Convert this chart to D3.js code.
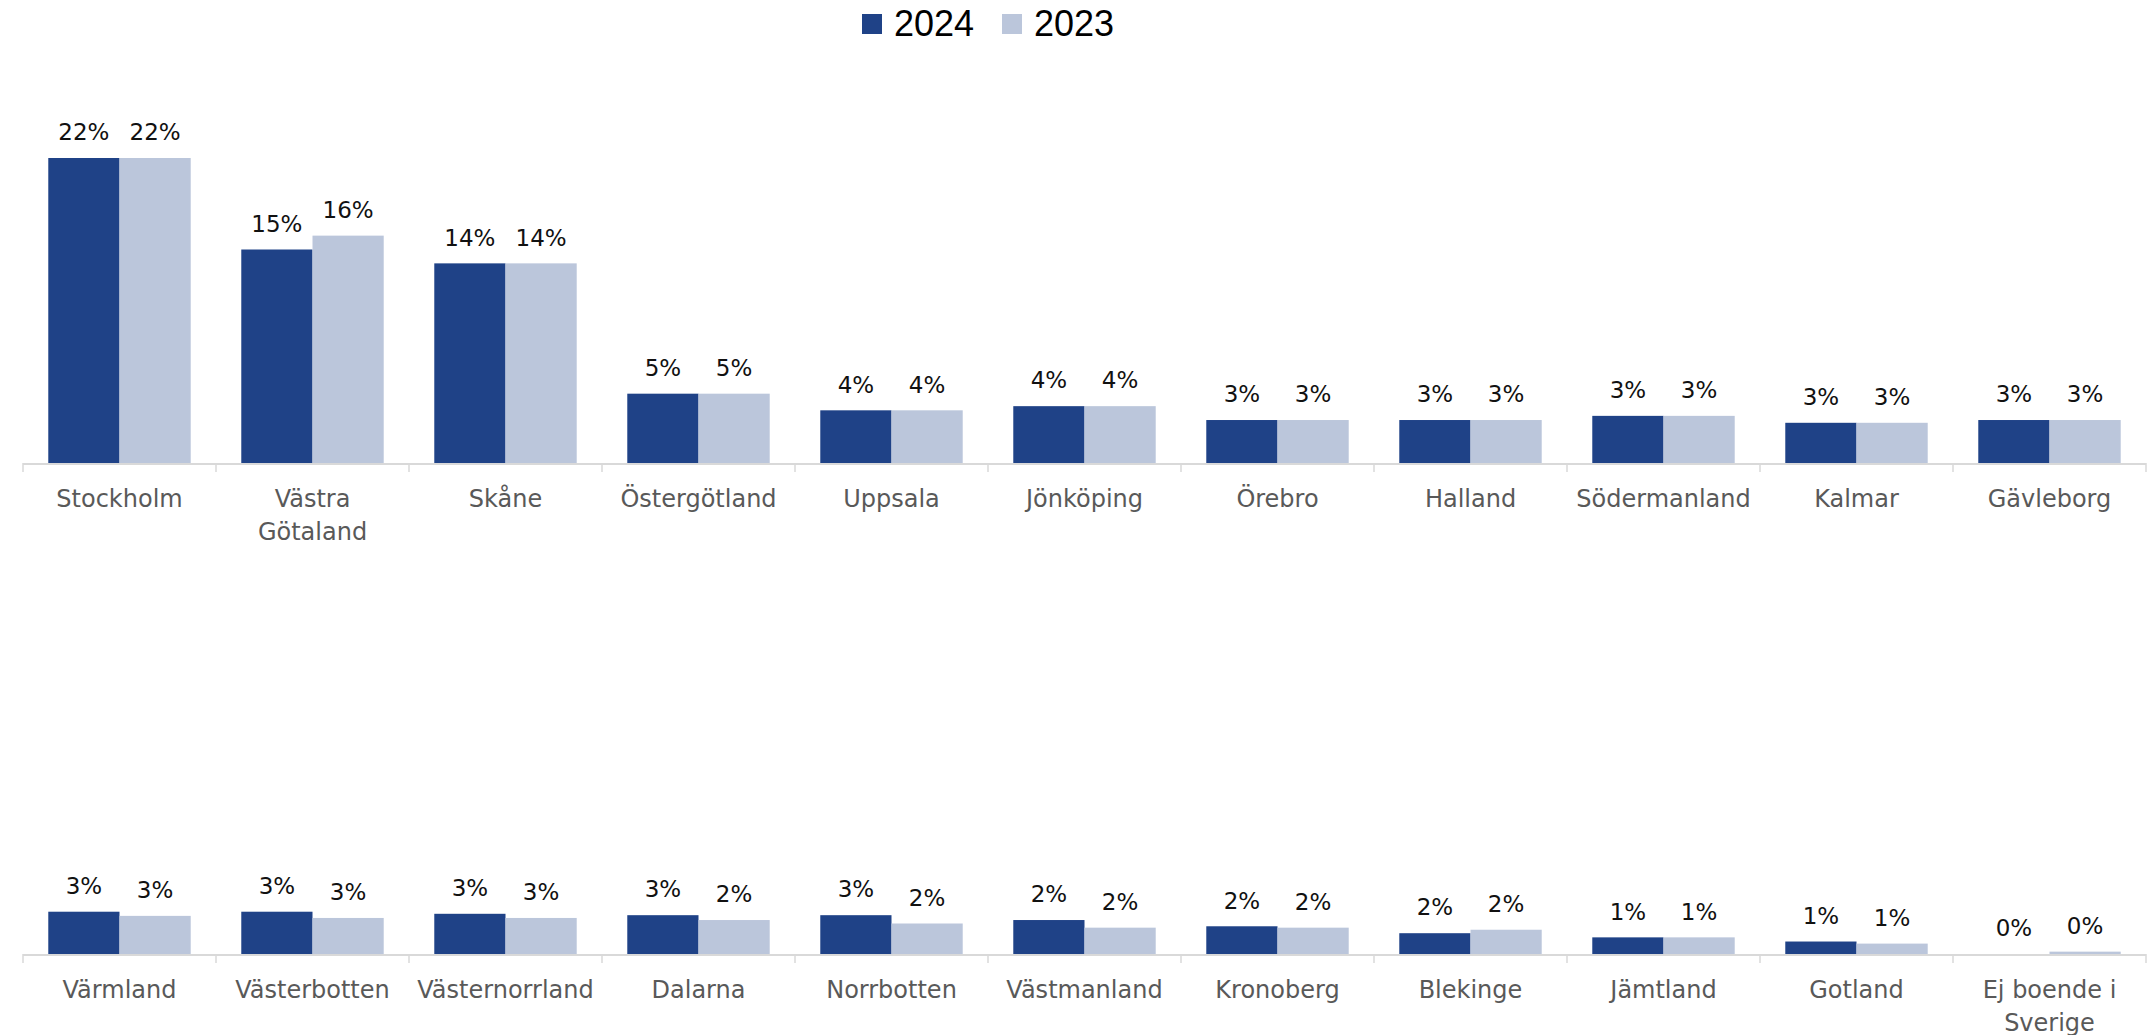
<!DOCTYPE html>
<html>
<head>
<meta charset="utf-8">
<script src="https://cdn.jsdelivr.net/npm/d3@7"></script>
<style>
    html, body { margin: 0; padding: 0; background: #fff; }
    svg { display: block; }
</style>
</head>
<body>
<svg id="chart" width="2149" height="1035"></svg>
<script>
const seriesNames = ["2024", "2023"];
const seriesColors = ["#1f4287", "#bbc6db"];

const topCategories = ["Stockholm", "Västra\nGötaland", "Skåne", "Östergötland", "Uppsala", "Jönköping",
    "Örebro", "Halland", "Södermanland", "Kalmar", "Gävleborg"];
const top2024 = [22.0, 15.4, 14.4, 5.0, 3.8, 4.1, 3.1, 3.1, 3.4, 2.9, 3.1];
const top2023 = [22.0, 16.4, 14.4, 5.0, 3.8, 4.1, 3.1, 3.1, 3.4, 2.9, 3.1];

const bottomCategories = ["Värmland", "Västerbotten", "Västernorrland", "Dalarna", "Norrbotten", "Västmanland",
    "Kronoberg", "Blekinge", "Jämtland", "Gotland", "Ej boende i\nSverige"];
const bottom2024 = [3.05, 3.05, 2.9, 2.8, 2.8, 2.45, 2.0, 1.5, 1.2, 0.9, 0.0];
const bottom2023 = [2.75, 2.6, 2.6, 2.45, 2.2, 1.9, 1.9, 1.75, 1.2, 0.75, 0.17];

const svg = d3.select("#chart");
const left = 23, right = 2146;

function drawLegend() {
    const g = svg.append("g");
    const items = [{ x: 862 }, { x: 1002 }];
    items.forEach((it, i) => {
        g.append("rect")
            .attr("x", it.x).attr("y", 14)
            .attr("width", 20).attr("height", 20)
            .attr("fill", seriesColors[i]);
        g.append("text")
            .attr("x", it.x + 32).attr("y", 36)
            .attr("font-family", "Liberation Sans, Arial, sans-serif")
            .attr("font-size", "36px")
            .attr("fill", "#000")
            .text(seriesNames[i]);
    });
}

function drawPanel(categories, s2024, s2023, axisY) {
    const x = d3.scaleBand()
        .domain(categories)
        .range([left, right])
        .paddingInner(0.262)
        .paddingOuter(0.131);
    const sub = d3.scaleBand()
        .domain(seriesNames)
        .range([0, x.bandwidth()]);
    const y = d3.scaleLinear().domain([0, 22]).range([axisY, axisY - 305]);

    const rows = categories.map((c, i) => ({ cat: c, vals: [s2024[i], s2023[i]] }));
    const g = svg.append("g");

    const groups = g.selectAll("g.grp")
        .data(rows)
        .enter().append("g")
        .attr("class", "grp")
        .attr("transform", d => `translate(${x(d.cat)},0)`);

    groups.selectAll("rect")
        .data(d => d.vals.map((v, i) => ({ v, s: seriesNames[i], i })))
        .enter().append("rect")
        .attr("x", d => sub(d.s))
        .attr("y", d => y(d.v))
        .attr("width", sub.bandwidth())
        .attr("height", d => axisY - y(d.v))
        .attr("fill", d => seriesColors[d.i]);

    groups.selectAll("text.val")
        .data(d => d.vals.map((v, i) => ({ v, s: seriesNames[i] })))
        .enter().append("text")
        .attr("class", "val")
        .attr("x", d => sub(d.s) + sub.bandwidth() / 2)
        .attr("y", d => y(d.v) - 26)
        .attr("dy", "0.36em")
        .attr("text-anchor", "middle")
        .attr("font-family", "DejaVu Sans, sans-serif")
        .attr("font-size", "23px")
        .attr("fill", "#111")
        .text(d => Math.round(d.v) + "%");

    // axis line + ticks at band boundaries
    g.append("line")
        .attr("x1", left).attr("x2", right)
        .attr("y1", axisY + 1).attr("y2", axisY + 1)
        .attr("stroke", "#d9d9d9").attr("stroke-width", 2);

    const step = x.step();
    const ticks = d3.range(categories.length + 1).map(i => left + i * step);
    g.selectAll("line.tick")
        .data(ticks)
        .enter().append("line")
        .attr("class", "tick")
        .attr("x1", d => d).attr("x2", d => d)
        .attr("y1", axisY).attr("y2", axisY + 9)
        .attr("stroke", "#d9d9d9").attr("stroke-width", 1.5);

    const labels = g.selectAll("text.cat")
        .data(categories)
        .enter().append("text")
        .attr("class", "cat")
        .attr("text-anchor", "middle")
        .attr("font-family", "DejaVu Sans, sans-serif")
        .attr("font-size", "24px")
        .attr("fill", "#595959")
        .attr("transform", d => `translate(${x(d) + x.bandwidth() / 2},${axisY + 35})`);

    labels.selectAll("tspan")
        .data(d => d.split("\n"))
        .enter().append("tspan")
        .attr("x", 0)
        .attr("y", (d, i) => i * 33)
        .attr("dy", "0.36em")
        .text(d => d);
}

drawLegend();
drawPanel(topCategories, top2024, top2023, 463);
drawPanel(bottomCategories, bottom2024, bottom2023, 954);
</script>
</body>
</html>
